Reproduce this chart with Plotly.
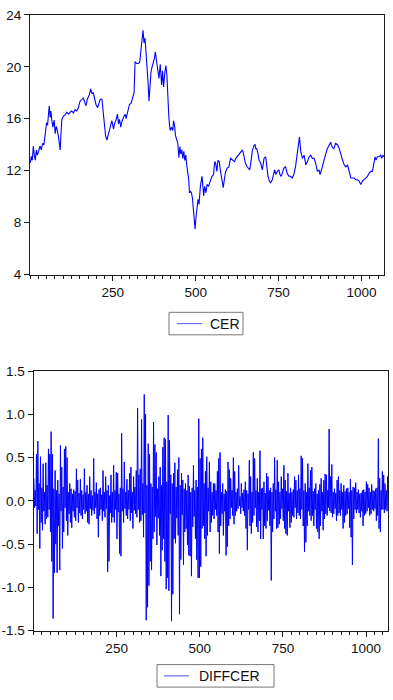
import plotly.graph_objects as go

# ---------------- data ----------------
cer_obs = [1, 4, 7, 10, 13, 16, 19, 22, 26, 30, 34, 38, 42, 45, 48, 50, 53, 55, 58, 61,
           63, 66, 69, 73, 76, 79, 81, 86, 89, 91, 94, 96, 101, 106, 111, 116, 121, 126, 131, 136,
           141, 146, 151, 156, 161, 166, 169, 173, 179, 183, 187, 191, 195, 199, 204, 208, 212, 217, 220, 224,
           228, 232, 237, 242, 247, 252, 255, 260, 264, 267, 270, 274, 277, 282, 287, 290, 295, 300, 305, 310,
           314, 317, 322, 327, 331, 335, 338, 341, 344, 347, 350, 353, 356, 359, 362, 365, 368, 371, 375, 378,
           381, 385, 389, 393, 397, 400, 403, 407, 410, 413, 416, 419, 421, 423, 427, 431, 433, 436, 439, 442,
           446, 449, 452, 455, 458, 461, 464, 467, 470, 472, 476, 479, 481, 484, 487, 490, 493, 496, 498, 501,
           504, 507, 510, 514, 519, 522, 524, 527, 531, 534, 539, 542, 546, 549, 554, 557, 560, 564, 567, 571,
           574, 579, 583, 587, 590, 595, 600, 605, 610, 613, 617, 621, 625, 630, 635, 640, 643, 647, 650, 655,
           660, 663, 668, 671, 676, 679, 681, 684, 688, 691, 696, 701, 706, 711, 714, 718, 722, 726, 731, 734,
           738, 742, 746, 751, 754, 758, 762, 766, 771, 776, 781, 786, 791, 796, 801, 807, 810, 813, 817, 822,
           827, 832, 837, 842, 847, 852, 857, 862, 867, 872, 875, 879, 882, 887, 892, 897, 902, 907, 912, 917,
           922, 928, 933, 938, 943, 948, 953, 958, 963, 968, 973, 978, 983, 988, 993, 998, 1003, 1008, 1013, 1018,
           1023, 1028, 1033, 1038, 1041, 1044, 1048, 1053, 1058, 1061, 1065, 1068]
cer_val = [12.6, 13.1, 12.8, 13.9, 13.2, 12.8, 13.6, 13.2, 13.5, 13.9, 13.6, 14.1, 14.0, 14.6, 15.2, 15.7, 15.5, 16.3, 17.0, 16.1,
           16.6, 15.85, 15.35, 15.9, 14.85, 15.4, 15.3, 14.6, 14.1, 13.6, 15.1, 15.95, 16.2, 16.3, 16.5, 16.35, 16.5, 16.6, 16.45, 16.7,
           16.6, 16.85, 17.35, 17.5, 17.6, 17.2, 17.0, 17.5, 17.85, 18.3, 17.95, 18.0, 17.55, 17.1, 16.85, 17.2, 17.5, 17.5, 16.85, 15.6,
           14.7, 14.35, 14.85, 15.2, 15.85, 15.2, 15.6, 15.95, 16.35, 15.6, 15.95, 15.35, 15.75, 16.1, 16.35, 16.0, 16.5, 17.1, 17.2, 17.7,
           18.0, 20.4, 20.25, 20.25, 20.35, 21.35, 22.35, 22.8, 21.85, 22.2, 21.1, 20.1, 18.85, 17.35, 18.6, 19.6, 19.95, 20.2, 20.6, 21.15,
           20.6, 19.6, 19.1, 20.2, 18.6, 19.7, 18.45, 19.6, 20.1, 19.35, 17.0, 16.1, 15.5, 15.1, 15.35, 15.1, 15.85, 15.5, 14.7, 14.35,
           14.1, 13.0, 13.85, 13.3, 13.6, 12.95, 13.5, 12.8, 13.2, 12.6, 11.8, 11.3, 10.3, 10.4, 10.3, 9.9, 9.0, 8.2, 7.5, 8.5,
           9.1, 9.8, 9.4, 10.8, 11.57, 10.57, 10.06, 10.8, 10.3, 10.94, 10.8, 11.07, 11.3, 11.57, 11.7, 12.7, 12.57, 11.95, 12.8, 12.7,
           12.07, 11.3, 10.7, 11.44, 11.9, 12.2, 12.3, 12.95, 12.82, 12.82, 12.7, 12.95, 13.07, 13.3, 13.45, 13.57, 13.45, 12.95, 12.57, 12.3,
           12.2, 12.07, 12.95, 13.57, 13.95, 14.0, 13.7, 13.7, 13.3, 12.82, 12.57, 12.07, 12.95, 13.07, 12.45, 11.57, 11.2, 11.07, 11.3, 11.7,
           12.07, 11.7, 11.95, 12.07, 11.7, 11.57, 11.95, 12.2, 12.3, 11.8, 11.57, 11.57, 11.44, 11.7, 12.3, 13.3, 13.95, 14.6, 13.45, 12.95,
           13.2, 12.45, 12.7, 13.07, 13.2, 12.95, 12.95, 12.57, 11.95, 12.07, 11.7, 12.2, 12.3, 12.82, 13.3, 13.7, 13.95, 14.2, 13.8, 13.7,
           14.1, 14.0, 13.7, 13.2, 12.82, 12.45, 12.3, 12.45, 11.95, 11.44, 11.44, 11.44, 11.3, 11.3, 11.2, 10.94, 11.2, 11.3, 11.44, 11.57,
           11.8, 11.95, 11.95, 12.7, 13.07, 12.82, 13.07, 13.07, 13.2, 12.95, 13.2, 13.07]

# DIFFCER: one value every 2 observations (obs 1, 3, 5, ...), rows of 10 up/down pairs
diffcer = [
    0.26, -0.08, 0.12, -0.06, 0.54, -0.38, 0.69, -0.10, 0.20, -0.55, 0.51, -0.25, 0.15, -0.34, 0.43, -0.12, 0.10, -0.27, 0.44, -0.21,
    0.18, -0.19, 0.60, -0.10, 0.54, -0.36, 0.80, -0.70, 0.54, -1.36, 0.14, -0.83, 0.35, -0.50, 0.12, -0.83, 0.24, -0.29, 0.08, -0.80,
    0.64, -0.12, 0.39, -0.55, 0.16, -0.36, 0.60, -0.08, 0.63, -0.23, 0.50, -0.40, 0.10, -0.15, 0.20, -0.25, 0.14, -0.31, 0.08, -0.12,
    0.13, -0.19, 0.11, -0.23, 0.37, -0.08, 0.24, -0.25, 0.09, -0.14, 0.25, -0.17, 0.12, -0.21, 0.07, -0.10, 0.37, -0.15, 0.10, -0.12,
    0.18, -0.25, 0.08, -0.27, 0.28, -0.09, 0.12, -0.17, 0.06, -0.11, 0.49, -0.15, 0.10, -0.08, 0.21, -0.21, 0.08, -0.42, 0.13, -0.17,
    0.15, -0.10, 0.07, -0.23, 0.35, -0.12, 0.10, -0.19, 0.28, -0.09, 0.12, -0.82, 0.18, -0.70, 0.06, -0.14, 0.30, -0.25, 0.10, -0.19,
    0.41, -0.25, 0.12, -0.10, 0.33, -0.44, 0.32, -0.13, 0.08, -0.61, 0.15, -0.64, 0.78, -0.12, 0.14, -0.25, 0.45, -0.09, 0.10, -0.17,
    0.25, -0.21, 0.12, -0.10, 0.32, -0.23, 0.39, -0.14, 0.10, -0.32, 0.28, -0.11, 0.16, -0.15, 0.35, -0.19, 1.07, -0.10, 0.30, -0.25,
    0.37, -0.23, 0.94, -0.16, 0.20, -0.42, 1.23, -0.14, 1.00, -1.38, 0.18, -1.23, 0.66, -0.98, 0.54, -0.70, 0.20, -0.80, 0.16, -0.44,
    0.91, -0.36, 0.65, -0.18, 0.56, -0.51, 0.14, -0.20, 0.28, -0.40, 0.39, -0.87, 0.18, -0.57, 0.62, -0.44, 0.73, -0.70, 0.71, -1.02,
    0.22, -0.89, 0.99, -1.04, 0.70, -0.15, 0.30, -1.39, 0.20, -1.08, 0.32, -0.44, 0.44, -0.49, 0.16, -0.20, 0.36, -0.40, 0.50, -1.31,
    0.18, -0.68, 0.32, -0.16, 0.24, -0.74, 0.14, -0.36, 0.20, -0.32, 0.12, -0.51, 0.30, -0.63, 0.17, -0.64, 0.10, -0.87, 0.15, -0.30,
    0.41, -0.18, 0.12, -0.44, 0.24, -0.68, 0.16, -0.89, 0.95, -0.89, 0.49, -0.76, 0.60, -0.32, 0.73, -0.29, 0.20, -0.44, 0.34, -0.64,
    0.51, -0.40, 0.15, -0.12, 0.45, -0.36, 0.22, -0.25, 0.10, -0.17, 0.20, -0.21, 0.20, -0.10, 0.12, -0.17, 0.34, -0.36, 0.49, -0.61,
    0.56, -0.29, 0.10, -0.15, 0.20, -0.40, 0.08, -0.12, 0.13, -0.63, 0.11, -0.53, 0.45, -0.29, 0.36, -0.21, 0.26, -0.08, 0.12, -0.17,
    0.50, -0.27, 0.34, -0.17, 0.10, -0.12, 0.14, -0.09, 0.41, -0.06, 0.05, -0.15, 0.20, -0.08, 0.09, -0.12, 0.13, -0.17, 0.22, -0.32,
    0.12, -0.57, 0.08, -0.10, 0.47, -0.29, 0.28, -0.38, 0.10, -0.25, 0.56, -0.17, 0.49, -0.08, 0.12, -0.30, 0.26, -0.36, 0.10, -0.23,
    0.58, -0.44, 0.14, -0.10, 0.15, -0.44, 0.22, -0.29, 0.09, -0.32, 0.32, -0.23, 0.28, -0.11, 0.12, -0.29, 0.15, -0.92, 0.10, -0.36,
    0.20, -0.21, 0.50, -0.12, 0.13, -0.32, 0.47, -0.31, 0.22, -0.27, 0.10, -0.21, 0.28, -0.09, 0.14, -0.23, 0.41, -0.32, 0.24, -0.38,
    0.11, -0.40, 0.32, -0.12, 0.09, -0.31, 0.15, -0.25, 0.10, -0.17, 0.13, -0.19, 0.28, -0.08, 0.24, -0.21, 0.12, -0.14, 0.30, -0.17,
    0.14, -0.21, 0.52, -0.10, 0.49, -0.29, 0.12, -0.59, 0.20, -0.48, 0.10, -0.29, 0.43, -0.12, 0.15, -0.17, 0.35, -0.23, 0.39, -0.17,
    0.11, -0.29, 0.14, -0.10, 0.20, -0.32, 0.08, -0.36, 0.12, -0.44, 0.19, -0.29, 0.26, -0.12, 0.10, -0.34, 0.24, -0.21, 0.31, -0.15,
    0.30, -0.17, 0.12, -0.08, 0.83, -0.12, 0.28, -0.14, 0.42, -0.19, 0.10, -0.15, 0.14, -0.09, 0.09, -0.23, 0.24, -0.17, 0.28, -0.14,
    0.12, -0.17, 0.20, -0.10, 0.10, -0.32, 0.18, -0.25, 0.11, -0.17, 0.14, -0.15, 0.15, -0.09, 0.10, -0.31, 0.25, -0.42, 0.12, -0.74,
    0.16, -0.21, 0.15, -0.10, 0.21, -0.14, 0.10, -0.10, 0.13, -0.14, 0.08, -0.19, 0.09, -0.12, 0.12, -0.29, 0.13, -0.17, 0.10, -0.15,
    0.22, -0.12, 0.19, -0.08, 0.15, -0.17, 0.10, -0.15, 0.19, -0.10, 0.12, -0.12, 0.11, -0.09, 0.14, -0.23, 0.15, -0.17, 0.72, -0.32,
    0.26, -0.36, 0.12, -0.10, 0.34, -0.10, 0.30, -0.14, 0.20, -0.10, 0.12, -0.12, 0.28, -0.10,
]
diff_obs = list(range(1, 2 * len(diffcer), 2))

x_tickvals = [250, 500, 750, 1000]
y1_tickvals = [4, 8, 12, 16, 20, 24]
y2_tickvals = [-1.5, -1.0, -0.5, 0.0, 0.5, 1.0, 1.5]
y2_ticktext = ["-1.5", "-1.0", "-0.5", "0.0", "0.5", "1.0", "1.5"]
series_names = ["CER", "DIFFCER"]

# ---------------- figure ----------------
W, H = 393, 700
FONT = "Liberation Sans, Arial, sans-serif"
LINE = "#0000ff"
AX = "#1a1a1a"

fig = go.Figure()
fig.add_trace(go.Scatter(x=cer_obs, y=cer_val, mode="lines", name=series_names[0],
                         line=dict(color=LINE, width=1.1), xaxis="x", yaxis="y",
                         showlegend=False, hoverinfo="skip"))
fig.add_trace(go.Scatter(x=diff_obs, y=diffcer, mode="lines", name=series_names[1],
                         line=dict(color=LINE, width=1), xaxis="x2", yaxis="y2",
                         showlegend=False, hoverinfo="skip"))

def xax(domain, anchor, rng):
    return dict(domain=domain, anchor=anchor, range=rng, tickmode="array", tickvals=x_tickvals,
                ticks="outside", ticklen=5, tickwidth=1, tickcolor=AX,
                showline=True, mirror=True, linecolor=AX, linewidth=1,
                showgrid=False, zeroline=False,
                tickfont=dict(family=FONT, size=13.5, color="#111"),
                minor=dict(tickmode="linear", tick0=0, dtick=25, ticks="outside",
                           ticklen=3, tickwidth=1, tickcolor=AX, showgrid=False))

def yax(domain, anchor, rng, vals, text=None):
    d = dict(domain=domain, anchor=anchor, range=rng, tickmode="array", tickvals=vals,
             ticks="outside", ticklen=5, tickwidth=1, tickcolor=AX,
             showline=True, mirror=True, linecolor=AX, linewidth=1,
             showgrid=False, zeroline=False,
             tickfont=dict(family=FONT, size=13.5, color="#111"))
    if text is not None:
        d["ticktext"] = text
    return d

# hand-built legend boxes (pixel geometry -> paper coordinates)
def px_x(v):
    return v / W

def px_y(v):
    return 1 - v / H

shapes = []
annotations = []
legend_boxes = [  # (box_left, box_top, box_right, box_bottom, line_x0, line_x1, text_x)
    (169, 312, 243, 335, 177, 202, 208),
    (157, 672, 274, 695, 164, 189, 197),
]
for name, (bl, bt, br, bb, lx0, lx1, tx) in zip(series_names, legend_boxes):
    mid = (bt + bb) / 2
    shapes.append(dict(type="rect", xref="paper", yref="paper",
                       x0=px_x(bl), x1=px_x(br), y0=px_y(bb), y1=px_y(bt),
                       line=dict(color="#777777", width=1), fillcolor="white"))
    shapes.append(dict(type="line", xref="paper", yref="paper",
                       x0=px_x(lx0), x1=px_x(lx1), y0=px_y(mid), y1=px_y(mid),
                       line=dict(color="#6a6aff", width=1.2)))
    annotations.append(dict(text=name, xref="paper", yref="paper", x=px_x(tx), y=px_y(mid),
                            xanchor="left", yanchor="middle", showarrow=False,
                            font=dict(family=FONT, size=14, color="#111")))

fig.update_layout(
    width=W, height=H, margin=dict(l=0, r=0, t=0, b=0),
    paper_bgcolor="white", plot_bgcolor="white",
    xaxis=xax([30 / W, 384 / W], "y", [0, 1068]),
    yaxis=yax([1 - 273.5 / H, 1 - 8 / H], "x", [4, 24], y1_tickvals),
    xaxis2=xax([33.5 / W, 388 / W], "y2", [0, 1066]),
    yaxis2=yax([1 - 637.3 / H, 1 - 372 / H], "x2", [-1.5, 1.5], y2_tickvals, y2_ticktext),
    shapes=shapes,
    annotations=annotations,
    showlegend=False,
)

fig.write_html("out.html")
